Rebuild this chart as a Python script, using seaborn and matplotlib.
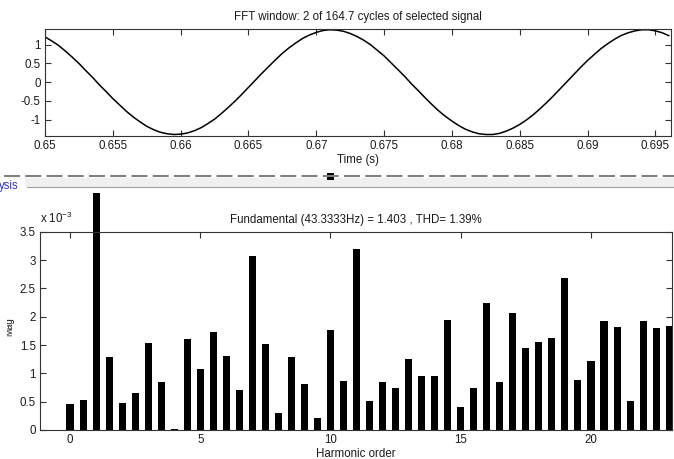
import matplotlib
matplotlib.use("Agg")
import matplotlib.pyplot as plt
import seaborn as sns
from matplotlib.lines import Line2D
from matplotlib.patches import Rectangle

# ---------------- data ----------------
time_s = [0.6500, 0.6505, 0.6510, 0.6515, 0.6520, 0.6525, 0.6530, 0.6535, 0.6540, 0.6545,
          0.6550, 0.6555, 0.6560, 0.6565, 0.6570, 0.6575, 0.6580, 0.6585, 0.6590, 0.6595,
          0.6600, 0.6605, 0.6610, 0.6615, 0.6620, 0.6625, 0.6630, 0.6635, 0.6640, 0.6645,
          0.6650, 0.6655, 0.6660, 0.6665, 0.6670, 0.6675, 0.6680, 0.6685, 0.6690, 0.6695,
          0.6700, 0.6705, 0.6710, 0.6715, 0.6720, 0.6725, 0.6730, 0.6735, 0.6740, 0.6745,
          0.6750, 0.6755, 0.6760, 0.6765, 0.6770, 0.6775, 0.6780, 0.6785, 0.6790, 0.6795,
          0.6800, 0.6805, 0.6810, 0.6815, 0.6820, 0.6825, 0.6830, 0.6835, 0.6840, 0.6845,
          0.6850, 0.6855, 0.6860, 0.6865, 0.6870, 0.6875, 0.6880, 0.6885, 0.6890, 0.6895,
          0.6900, 0.6905, 0.6910, 0.6915, 0.6920, 0.6925, 0.6930, 0.6935, 0.6940, 0.6945,
          0.6950, 0.6955, 0.6960]
signal = [1.21, 1.10, 0.98, 0.83, 0.67, 0.50, 0.31, 0.13, -0.07, -0.25,
          -0.44, -0.61, -0.78, -0.93, -1.06, -1.18, -1.27, -1.34, -1.38, -1.40,
          -1.39, -1.36, -1.30, -1.22, -1.11, -0.99, -0.84, -0.68, -0.51, -0.33,
          -0.14, 0.05, 0.24, 0.42, 0.60, 0.77, 0.92, 1.05, 1.17, 1.26,
          1.33, 1.38, 1.40, 1.39, 1.36, 1.30, 1.22, 1.12, 1.00, 0.85,
          0.70, 0.52, 0.34, 0.16, -0.04, -0.22, -0.41, -0.59, -0.76, -0.91,
          -1.04, -1.16, -1.26, -1.33, -1.38, -1.40, -1.40, -1.37, -1.31, -1.23,
          -1.13, -1.01, -0.87, -0.71, -0.54, -0.36, -0.17, 0.02, 0.21, 0.40,
          0.58, 0.74, 0.90, 1.03, 1.15, 1.25, 1.32, 1.37, 1.40, 1.40,
          1.37, 1.32, 1.24]

harmonic_order = [0, 0.5, 1, 1.5, 2, 2.5, 3, 3.5, 4, 4.5, 5, 5.5, 6, 6.5, 7, 7.5,
                  8, 8.5, 9, 9.5, 10, 10.5, 11, 11.5, 12, 12.5, 13, 13.5, 14, 14.5,
                  15, 15.5, 16, 16.5, 17, 17.5, 18, 18.5, 19, 19.5, 20, 20.5, 21,
                  21.5, 22, 22.5, 23]
# magnitudes in units of 1e-3
magnitude_e3 = [0.46, 0.53, 4.18, 1.28, 0.48, 0.65, 1.53, 0.84, 0.01, 1.60, 1.08,
                1.73, 1.30, 0.71, 3.07, 1.52, 0.30, 1.29, 0.82, 0.22, 1.77, 0.86,
                3.20, 0.52, 0.84, 0.75, 1.25, 0.95, 0.95, 1.95, 0.41, 0.74, 2.24,
                0.84, 2.06, 1.45, 1.55, 1.62, 2.68, 0.88, 1.21, 1.92, 1.81, 0.52,
                1.92, 1.80, 1.84]

top_xticks = [0.65, 0.655, 0.66, 0.665, 0.67, 0.675, 0.68, 0.685, 0.69, 0.695]
top_xticklabels = ['0.65', '0.655', '0.66', '0.665', '0.67', '0.675', '0.68',
                   '0.685', '0.69', '0.695']
top_yticks = [-1, -0.5, 0, 0.5, 1]
top_yticklabels = ['-1', '-0.5', '0', '0.5', '1']
bot_xticks = [0, 5, 10, 15, 20]
bot_yticks = [0, 0.5, 1, 1.5, 2, 2.5, 3, 3.5]
bot_yticklabels = ['0', '0.5', '1', '1.5', '2', '2.5', '3', '3.5']

# ---------------- style ----------------
sns.set_style("ticks")
plt.rcParams['font.family'] = ['Liberation Sans', 'DejaVu Sans']
plt.rcParams['mathtext.fontset'] = 'custom'
plt.rcParams['mathtext.rm'] = 'Liberation Sans'
plt.rcParams['mathtext.it'] = 'Liberation Sans:italic'
plt.rcParams['mathtext.default'] = 'regular'
plt.rcParams['axes.unicode_minus'] = False
plt.rcParams['lines.scale_dashes'] = False

TXT = '#1a1a1a'
SPINE = '#333333'
FS = 8.3
W, H = 674, 459

fig = plt.figure(figsize=(W / 100, H / 100), dpi=100)
fig.patch.set_facecolor('white')

def fx(px):
    return px / W

def fy(py):
    return 1 - py / H

ax1 = fig.add_axes([fx(45), fy(136), (671 - 45) / W, (136 - 29) / H])
ax2 = fig.add_axes([fx(40), fy(430), (672 - 40) / W, (430 - 231.7) / H])

# ---------------- top: signal ----------------
sns.lineplot(x=time_s, y=signal, ax=ax1, color='black', linewidth=1.1)
ax1.set_xlim(0.65, 0.69615)
ax1.set_ylim(-1.44, 1.42)
ax1.set_xticks(top_xticks)
ax1.set_xticklabels(top_xticklabels)
ax1.set_yticks(top_yticks)
ax1.set_yticklabels(top_yticklabels)
ax1.set_title('FFT window: 2 of 164.7 cycles of selected signal',
              fontsize=FS, color=TXT, pad=6.5)
ax1.set_xlabel('Time (s)', fontsize=FS, color=TXT, labelpad=1.5)
ax1.set_ylabel('')

# ---------------- bottom: spectrum ----------------
sns.barplot(x=harmonic_order, y=magnitude_e3, native_scale=True, width=0.54,
            color='black', saturation=1, ax=ax2, edgecolor='none')
for p in ax2.patches:
    cx = p.get_x() + p.get_width() / 2
    if abs(cx - 1) < 0.1:
        p.set_clip_on(False)
ax2.set_xlim(-1.152, 23.11)
ax2.set_ylim(0, 3.5)
ax2.set_xticks(bot_xticks)
ax2.set_xticklabels([str(v) for v in bot_xticks])
ax2.set_yticks(bot_yticks)
ax2.set_yticklabels(bot_yticklabels)
ax2.set_title('Fundamental (43.3333Hz) = 1.403 , THD= 1.39%',
              fontsize=FS, color=TXT, pad=6.5)
ax2.set_xlabel('Harmonic order', fontsize=FS, color=TXT, labelpad=1.5)
ax2.set_ylabel('')

for ax in (ax1, ax2):
    for s in ax.spines.values():
        s.set_visible(True)
        s.set_color(SPINE)
        s.set_linewidth(0.8)
    ax.tick_params(direction='in', top=True, right=True, length=4, width=0.8,
                   colors=SPINE, labelcolor=TXT, labelsize=FS, pad=3)
    ax.set_facecolor('white')

fig.text(fx(40), fy(218), r'x 10$^{-3}$', fontsize=FS, color=TXT, va='center', ha='left')
fig.text(fx(14), fy(327), 'Mag', fontsize=7, color=TXT, rotation=90,
         ha='right', va='center')
# clip the left part of the y label like the panel edge does
fig.add_artist(Rectangle((0, fy(360)), 6.5 / W, 60 / H, transform=fig.transFigure,
                         facecolor='white', edgecolor='none', zorder=10))

# ---------------- GUI separator elements ----------------
fig.add_artist(Rectangle((fx(25), fy(187)), (W - 25) / W, 9 / H,
                         transform=fig.transFigure, facecolor='#f0f0f0',
                         edgecolor='none'))
fig.add_artist(Line2D([fx(27), 1], [fy(187), fy(187)], transform=fig.transFigure,
                      color='#a0a0a0', linewidth=0.8))
fig.add_artist(Line2D([fx(4), 1], [fy(176), fy(176)], transform=fig.transFigure,
                      color='#808080', linewidth=1.5, dashes=(11.5, 3.8)))
fig.add_artist(Rectangle((fx(326.5), fy(179.5)), 7 / W, 7 / H,
                         transform=fig.transFigure, facecolor='black',
                         edgecolor='none'))
fig.text(fx(-1.5), fy(186), 'ysis', fontsize=FS, color='#3333bb', va='center', ha='left')

fig.savefig('out.png', dpi=100)
